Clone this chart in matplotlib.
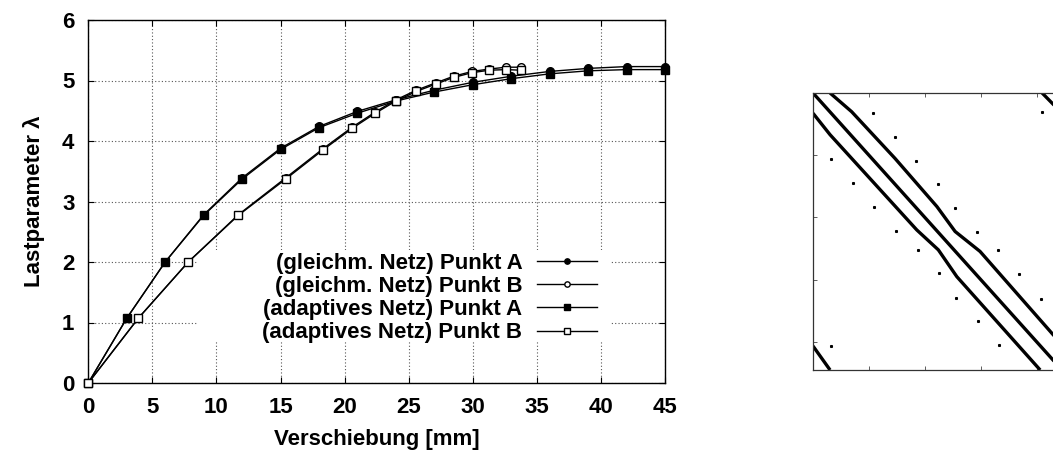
import matplotlib
matplotlib.use("Agg")
import matplotlib.pyplot as plt
from matplotlib.patches import Rectangle

plt.rcParams['font.family'] = ['Liberation Sans', 'DejaVu Sans']
plt.rcParams['font.weight'] = 'bold'
plt.rcParams['font.size'] = 16

# left chart: load displacement curves
x_a = [0, 3, 6, 9, 12, 15, 18, 21, 24, 27, 30, 33, 36, 39, 42, 45]
y_glA = [0, 1.07, 2.0, 2.78, 3.39, 3.88, 4.24, 4.49, 4.68, 4.84, 4.97, 5.07, 5.15, 5.20, 5.23, 5.23]
y_adA = [0, 1.07, 2.0, 2.77, 3.37, 3.86, 4.22, 4.46, 4.66, 4.81, 4.93, 5.03, 5.11, 5.16, 5.18, 5.18]

x_b = [0, 3.9, 7.8, 11.7, 15.4, 18.3, 20.6, 22.4, 24.0, 25.6, 27.1, 28.5, 29.95, 31.3, 32.6, 33.8]
y_glB = [0, 1.07, 2.0, 2.78, 3.39, 3.87, 4.23, 4.48, 4.68, 4.84, 4.96, 5.07, 5.15, 5.19, 5.22, 5.22]
y_adB = [0, 1.07, 2.0, 2.77, 3.37, 3.85, 4.21, 4.46, 4.66, 4.82, 4.94, 5.05, 5.13, 5.17, 5.18, 5.17]

labels = ["(gleichm. Netz) Punkt A", "(gleichm. Netz) Punkt B",
          "(adaptives Netz) Punkt A", "(adaptives Netz) Punkt B"]

# right chart: sparsity pattern (matrix size n)
n = 89
band_main = [(0, 0), (89, 89)]
band_upper = [(6.1, 0), (13.8, 6.0), (29.3, 21.0), (44.3, 36.5), (50.8, 44.5), (59.7, 50.9), (89, 80.9)]
band_upper_wrap = [(0, 81.3), (6.1, 89)]
band_lower = [(0, 6.5), (6.1, 13.4), (37.1, 44.0), (44.8, 50.4), (51.4, 59.0), (81.2, 89)]
band_lower_wrap = [(81.9, 0), (89, 6.5)]
dots_x = [21.5, 29.3, 36.9, 44.6, 50.8, 58.6, 66.3, 73.8, 81.6, 81.8,
          6.6, 14.2, 21.9, 29.7, 37.4, 45.1, 51.2, 58.9, 66.5, 6.3]
dots_y = [6.3, 14.0, 21.7, 29.3, 36.9, 44.5, 50.6, 58.2, 66.1, 6.0,
          21.3, 29.0, 36.5, 44.2, 50.4, 57.9, 65.8, 73.4, 81.1, 81.4]

fig = plt.figure(figsize=(10.53, 4.53), dpi=100)

ax = fig.add_axes([88.3/1053, 70/453, 576.7/1053, 363/453])
ax.set_axisbelow(True)
ax.grid(True, linestyle=(0, (1, 2)), color='#555555', linewidth=0.8)

# white area behind the key (gnuplot leaves grid out there)
ax.add_patch(Rectangle(((196.7-88.3)/576.7, (383-341.7)/363),
                       (610-196.7)/576.7, (341.7-250)/363,
                       transform=ax.transAxes, facecolor='white', edgecolor='none', zorder=1))

ms = 5.5
ax.plot(x_a, y_glA, color='black', lw=1, marker='o', ms=ms, mfc='black', mec='black', label=labels[0], zorder=3, clip_on=False)
ax.plot(x_b, y_glB, color='black', lw=1, marker='o', ms=ms, mfc='white', mec='black', label=labels[1], zorder=3, clip_on=False)
ax.plot(x_a, y_adA, color='black', lw=1, marker='s', ms=ms, mfc='black', mec='black', label=labels[2], zorder=3, clip_on=False)
ax.plot(x_b, y_adB, color='black', lw=1, marker='s', ms=ms, mfc='white', mec='black', label=labels[3], zorder=3, clip_on=False)

ax.set_xlim(0, 45)
ax.set_ylim(0, 6)
ax.set_xticks(range(0, 46, 5))
ax.set_yticks(range(0, 7))
ax.tick_params(direction='in', length=4, width=0.8, top=True, right=True, labelsize=16)
ax.tick_params(axis='x', pad=10)
ax.tick_params(axis='y', pad=10)
for s in ax.spines.values():
    s.set_linewidth(1)
ax.set_xlabel("Verschiebung [mm]", fontsize=16, fontweight='bold', labelpad=8)
ax.set_ylabel("Lastparameter λ", fontsize=16, fontweight='bold', labelpad=12)

leg = ax.legend(loc='center right', bbox_to_anchor=((596.7-88.3)/576.7, (383-298)/363),
                frameon=False, markerfirst=False, borderaxespad=0, borderpad=0,
                handlelength=2.7, handletextpad=0.65, labelspacing=0.1,
                markerscale=0.7, fontsize=16)
leg.set_zorder(4)

# right chart
ax2 = fig.add_axes([813/1053, 83/453, 249/1053, 277/453])
for band in [band_main, band_upper, band_upper_wrap, band_lower, band_lower_wrap]:
    ax2.plot([p[0] for p in band], [p[1] for p in band], color='black', lw=2.4, solid_capstyle='butt')
ax2.plot(dots_x, dots_y, linestyle='none', marker='s', ms=1.2, color='black')
ax2.set_xlim(0, n)
ax2.set_ylim(n, 0)
ax2.set_xticks([20, 40, 60, 80])
ax2.set_yticks([20, 40, 60, 80])
ax2.tick_params(direction='in', length=3, width=0.6, top=True, right=True,
                labelbottom=False, labelleft=False, color='#444444')
for s in ax2.spines.values():
    s.set_linewidth(0.9)
    s.set_color('#333333')

fig.savefig("out.png", dpi=100)
